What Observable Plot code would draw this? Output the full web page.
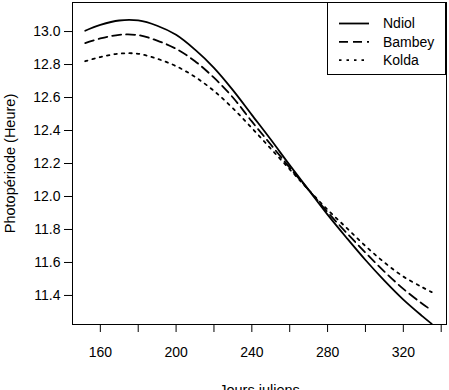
<!DOCTYPE html>
<html><head><meta charset="utf-8">
<script src="https://cdn.jsdelivr.net/npm/d3@7"></script>
<script src="https://cdn.jsdelivr.net/npm/@observablehq/plot@0.6"></script>
<style>
html,body{margin:0;padding:0;background:#fff;overflow:hidden}
#wrap{position:relative;width:449px;height:390px;overflow:hidden}
#wrap svg g[aria-label="y-axis label"] text,
#wrap svg g[aria-label="x-axis label"] text{font-size:14.5px}
</style></head>
<body><div id="wrap"></div>
<script>
const days   = [152, 160, 170, 180, 190, 200, 210, 220, 230, 240, 250, 260, 270, 280, 290, 300, 310, 320, 330, 335];
const ndiol  = [13.005, 13.04, 13.067, 13.067, 13.035, 12.98, 12.89, 12.78, 12.645, 12.495, 12.345, 12.19, 12.04, 11.89, 11.75, 11.615, 11.49, 11.375, 11.275, 11.228];
const bambey = [12.93, 12.958, 12.98, 12.978, 12.945, 12.895, 12.82, 12.72, 12.60, 12.455, 12.315, 12.175, 12.04, 11.905, 11.78, 11.66, 11.545, 11.44, 11.35, 11.31];
const kolda  = [12.82, 12.845, 12.866, 12.865, 12.835, 12.79, 12.725, 12.64, 12.535, 12.415, 12.29, 12.165, 12.04, 11.92, 11.81, 11.70, 11.60, 11.515, 11.45, 11.42];
const sites  = ["Ndiol", "Bambey", "Kolda"];
const xTicks = [160, 180, 200, 220, 240, 260, 280, 300, 320, 340];
const xLabels = [160, 200, 240, 280, 320];
const yTicks = [11.4, 11.6, 11.8, 12.0, 12.2, 12.4, 12.6, 12.8, 13.0];

const series = {Ndiol: ndiol, Bambey: bambey, Kolda: kolda};
const dashes = {Ndiol: null, Bambey: "9,5", Kolda: "2.5,5"};
const data = sites.flatMap(s => days.map((d, i) => ({site: s, day: d, value: series[s][i]})));

const font = "'Liberation Sans', Arial, Helvetica, sans-serif";
const chart = Plot.plot({
  width: 449, height: 400,
  marginLeft: 72, marginRight: 3, marginTop: 2, marginBottom: 76,
  style: {fontFamily: font, fontSize: "14px", color: "#000", background: "#fff", overflow: "visible"},
  x: {domain: [145.3, 342.8]},
  y: {domain: [11.224, 13.176]},
  marks: [
    Plot.axisX({ticks: xTicks, tickSize: 8, tickPadding: 15, fontSize: 14, tickFormat: d => xLabels.includes(d) ? String(d) : "",
      label: "Jours juliens", labelAnchor: "center", labelArrow: "none", labelOffset: 70}),
    Plot.axisY({ticks: yTicks, tickSize: 8, tickPadding: 4, fontSize: 14, tickFormat: d3.format(".1f"),
      label: "Photopériode (Heure)", labelAnchor: "center", labelArrow: "none", labelOffset: 68}),
    ...sites.map(s => Plot.line(data.filter(d => d.site === s), {x: "day", y: "value", stroke: "#000", strokeWidth: 1.8, strokeDasharray: dashes[s], curve: "catmull-rom"})),
    Plot.frame({stroke: "#000", strokeWidth: 1})
  ]
});
const wrap = document.getElementById("wrap");
wrap.appendChild(chart);

// legend
const lg = d3.select(wrap).append("svg").attr("id", "legend").attr("width", 449).attr("height", 390)
  .style("position", "absolute").style("left", "0px").style("top", "0px").style("font-family", font).style("font-size", "14px");
lg.append("rect").attr("x", 327.5).attr("y", 2.5).attr("width", 118).attr("height", 72).attr("fill", "#fff").attr("stroke", "#000");
sites.forEach((s, i) => {
  const y = 23.5 + i * 18.3;
  lg.append("line").attr("x1", 339).attr("x2", 369).attr("y1", y).attr("y2", y).attr("stroke", "#000").attr("stroke-width", 1.8)
    .attr("stroke-dasharray", dashes[s]);
  lg.append("text").attr("x", 383).attr("y", y).attr("dy", "0.35em").text(s);
});
</script></body></html>
